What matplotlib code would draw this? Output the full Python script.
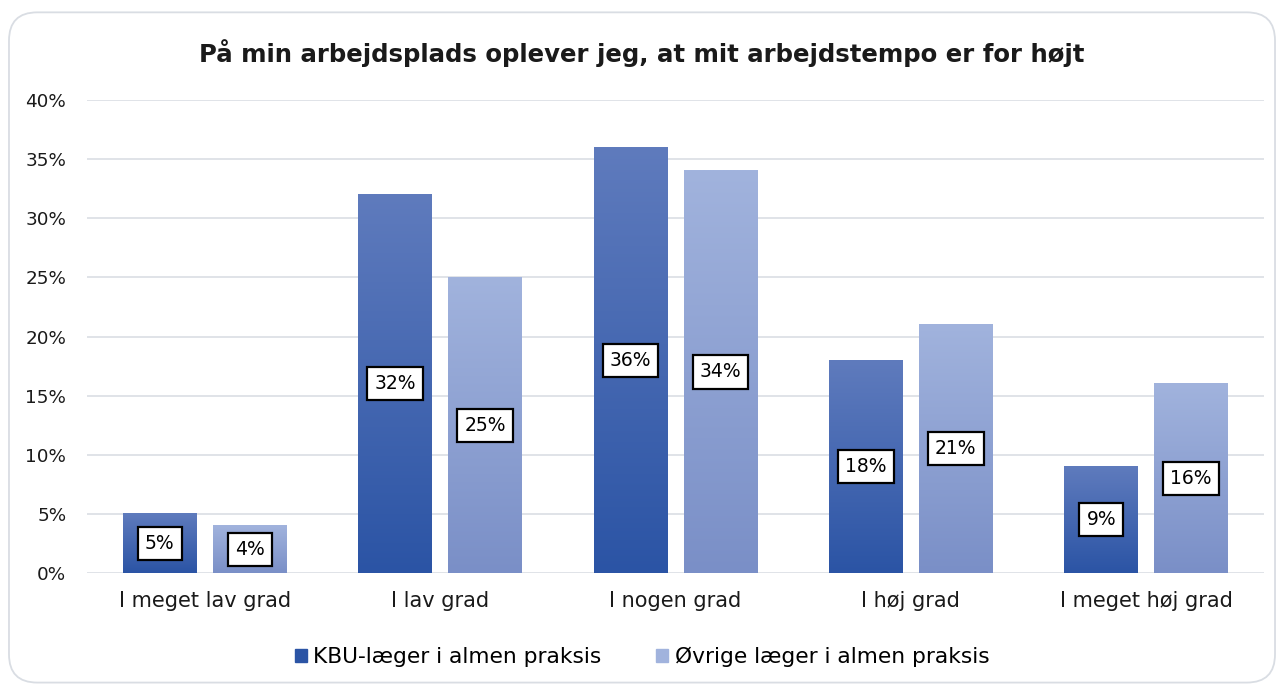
import matplotlib
matplotlib.use("Agg")
import matplotlib.pyplot as plt
import numpy as np
from matplotlib.patches import FancyBboxPatch, Rectangle
from matplotlib.colors import LinearSegmentedColormap

categories = ["I meget lav grad", "I lav grad", "I nogen grad", "I høj grad", "I meget høj grad"]
series_names = ["KBU-læger i almen praksis", "Øvrige læger i almen praksis"]
kbu = [5, 32, 36, 18, 9]
ovrige = [4, 25, 34, 21, 16]
yticks = [0, 5, 10, 15, 20, 25, 30, 35, 40]
title = "På min arbejdsplads oplever jeg, at mit arbejdstempo er for højt"

plt.rcParams['font.family'] = ['DejaVu Sans']
fig = plt.figure(figsize=(12.84, 6.86), dpi=100)
fig.patch.set_facecolor("white")
border = FancyBboxPatch((0.007, 0.005), 0.986, 0.977, boxstyle="round,pad=0,rounding_size=0.022",
                        transform=fig.transFigure, facecolor="none", edgecolor="#d9dde3", lw=1.3,
                        mutation_aspect=1284/686, zorder=-1)
fig.patches.append(border)

ax = fig.add_axes([0.0678, 0.1647, 0.9166, 0.6895])
ax.set_facecolor("none")
x = np.arange(len(categories))
w = 0.314
off = 0.191
grads = [("#5f7bbd", "#2b54a5"), ("#a1b3dd", "#7a8fc7")]

for vals, o, (ctop, cbot) in zip([kbu, ovrige], [-off, off], grads):
    cmap = LinearSegmentedColormap.from_list("g", [cbot, ctop])
    bars = ax.bar(x + o, vals, w, color="none", zorder=2)
    for b, v in zip(bars, vals):
        x0 = b.get_x(); x1 = x0 + b.get_width(); h = b.get_height()
        grad = np.linspace(0, 1, 256).reshape(-1, 1)
        ax.imshow(grad, cmap=cmap, origin="lower", extent=[x0, x1, 0, h], aspect="auto", zorder=2)
        ax.text(b.get_x() + b.get_width()/2, h/2, f"{v}%", ha="center", va="center", fontsize=13.5,
                color="black", zorder=4,
                bbox=dict(boxstyle="square,pad=0.38", facecolor="white", edgecolor="black", lw=1.6))

ax.set_xlim(-0.5, len(categories) - 0.5)
ax.set_ylim(0, 40)
ax.set_yticks(yticks)
ax.set_yticklabels([f"{t}%" for t in yticks], fontsize=13.2)
ax.set_xticks(x)
ax.set_xticklabels(categories, fontsize=15)
ax.tick_params(axis="both", length=0, colors="#1a1a1a")
ax.tick_params(axis="y", pad=15)
ax.tick_params(axis="x", pad=13)
ax.grid(axis="y", color="#e0e3e8", lw=1.4, zorder=0)
ax.set_axisbelow(True)
for s in ax.spines.values():
    s.set_visible(False)

fig.text(0.5, 0.923, title, ha="center", va="center", fontsize=17.6, fontweight="bold", color="#1a1a1a")

handles = [Rectangle((0, 0), 1, 1, color=grads[0][1]), Rectangle((0, 0), 1, 1, color=grads[1][0])]
fig.legend(handles, series_names, loc="center", bbox_to_anchor=(0.5, 0.042), ncol=2, frameon=False,
           fontsize=15.7, handlelength=0.55, handleheight=0.55, columnspacing=2.5, handletextpad=0.3)

fig.savefig("out.png", dpi=100, facecolor="white")
